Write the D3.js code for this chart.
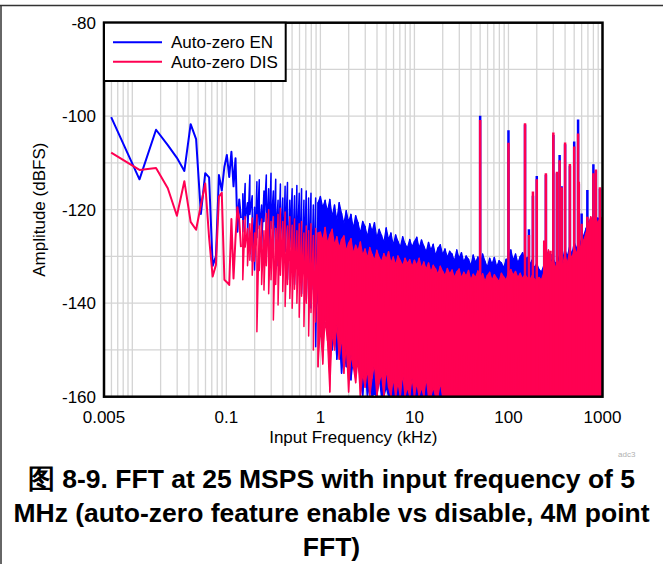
<!DOCTYPE html>
<html><head><meta charset="utf-8">
<script src="https://cdn.jsdelivr.net/npm/d3@7/dist/d3.min.js"></script>
<style>html,body{margin:0;padding:0;background:#fff;}svg{display:block;}</style>
</head><body>
<svg id="chart" width="663" height="564"></svg>
<script>
// ---------------- DATA ----------------
const seriesNames = ["Auto-zero EN", "Auto-zero DIS"];
const xTickValues = [0.005, 0.1, 1, 10, 100, 1000];
const xTickLabels = ["0.005", "0.1", "1", "10", "100", "1000"];
const yTickValues = [-80, -100, -120, -140, -160];

// lowest FFT bins (kHz), drawn as a plain line
const binFreq = [0.00596, 0.01192, 0.01788, 0.02384, 0.0298, 0.03576, 0.04172, 0.04768, 0.05364, 0.0596,
  0.06556, 0.07152, 0.07748, 0.08344, 0.0894, 0.09536, 0.1013, 0.1073, 0.1132, 0.1192, 0.1252, 0.1311, 0.1371, 0.1430];
const enBins = [-100.2, -113.5, -102.9, -106.2, -108.9, -111.7, -101.7, -104.9, -120.9, -112.2,
  -113.1, -132, -130, -112.6, -115.9, -110.8, -108.3, -113, -107.6, -115, -109, -124.7, -117.8, -121.8];
const disBins = [-107.8, -111.5, -111.1, -115.4, -121.3, -113.9, -122.6, -124.3, -119, -114.4,
  -126, -134.3, -131.8, -117.2, -116.4, -135, -135.5, -136.1, -122, -134.7, -126, -119.5, -122.2, -128];

// dense part of the spectrum: per-frequency max / min of the trace (kHz, dBFS)
const envFreq = [
  0.1496, 0.1585, 0.1679, 0.1778, 0.1884, 0.1995, 0.2113, 0.2239, 0.2371, 0.2512, 0.2661, 0.2818, 0.2985, 0.3162, 0.335, 0.3548, 0.3758, 0.3981, 0.4217, 0.4467, 0.4732, 0.5012, 0.5309, 0.5623, 0.5957, 0.631, 0.6683, 0.7079, 0.7499, 0.7943, 0.8414, 0.8913, 0.9441,
  1, 1.059, 1.122, 1.189, 1.259, 1.334, 1.413, 1.496, 1.585, 1.679, 1.778, 1.884, 1.995, 2.113, 2.239, 2.371, 2.512, 2.661, 2.818, 2.985, 3.162, 3.35, 3.548, 3.758, 3.981, 4.217, 4.467, 4.732, 5.012, 5.309, 5.623, 5.957, 6.31, 6.683, 7.079, 7.499, 7.943, 8.414, 8.913, 9.441,
  10, 10.59, 11.22, 11.89, 12.59, 13.34, 14.13, 14.96, 15.85, 16.79, 17.78, 18.84, 19.95, 21.13, 22.39, 23.71, 25.12, 26.61, 28.18, 29.85, 31.62, 33.5, 35.48, 37.58, 39.81, 42.17, 44.67, 47.32, 50.12, 53.09, 56.23, 59.57, 63.1, 66.83, 70.79, 74.99, 79.43, 84.14, 89.13, 94.41,
  100, 105.9, 112.2, 118.9, 125.9, 133.4, 141.3, 149.6, 158.5, 167.9, 177.8, 188.4, 199.5, 211.3, 223.9, 237.1, 251.2, 266.1, 281.8, 298.5, 316.2, 335, 354.8, 375.8, 398.1, 421.7, 446.7, 473.2, 501.2, 530.9, 562.3, 595.7, 631, 668.3, 707.9, 749.9, 794.3, 841.4, 891.3, 944.1,
  1000];
const enHi = [
  -116.5, -114.4, -118.5, -112.6, -117, -119.5, -114, -113.6, -119, -116, -112.6, -115.5, -112.2, -116, -113.5, -118, -114.5, -117.5, -115, -114.2, -118, -115.5, -117, -114.8, -116.5, -115.5, -118, -116, -117.5, -116.5, -119, -117.5, -118.5,
  -117.2, -119.5, -118, -120.4, -117.8, -121.5, -119, -122.3, -118.5, -120.8, -123, -120.2, -122.6, -121, -124, -121.3, -122.8, -125, -122.5, -123.6, -125.8, -123, -124.6, -122.8, -126, -124.2, -125.5, -127, -123.9, -126.4, -125, -127.6, -125.4, -126.8, -128, -125.8, -127.3, -128.2, -126.4, -127.9,
  -126.8, -125.9, -128.2, -126.5, -127.8, -129, -127, -128.6, -127.4, -129.8, -128.2, -127.5, -129.6, -128.4, -130.2, -128.9, -129.5, -131, -128.6, -130.4, -129.2, -131.2, -129.9, -130.6, -132, -129.7, -131.3, -130.1, -131.8, -129.5, -131, -132.3, -130.4, -131.6, -130.2, -132.2, -130.9, -131.4, -132.4, -130.6,
  -130.5, -128.6, -130.8, -129.5, -131.4, -130, -129.2, -131, -130.2, -131.8, -130.8, -132.5, -131.5, -132.8, -133.3, -132, -130, -129, -131, -130.5, -131.5, -130.8, -129.5, -130.8, -128.5, -130, -128, -129.5, -127, -128.5, -126, -127.5, -125.5, -124, -122.5, -123.5, -122, -122.8, -121.8, -122.4,
  -122];
const enLo = [
  -124.7, -122, -126, -121, -131, -132.9, -126, -124, -128, -122.5, -125, -130, -124, -128.5, -126, -132, -127, -134, -129, -135, -128, -133, -136, -130, -134, -138, -132, -139.3, -135, -141, -137, -149.3, -140,
  -144, -149.4, -140, -146.4, -142, -150, -145, -152, -147, -155, -150, -153.6, -148, -156.4, -152, -148.6, -152.9, -156, -160, -154, -160, -157, -160, -159.3, -160, -156, -160, -160, -158, -160, -160, -160, -160, -160, -160, -160, -160, -160, -160, -160,
  -160, -160, -160, -160, -160, -160, -160, -160, -160, -160, -160, -160, -160, -160, -160, -160, -160, -160, -160, -160, -160, -160, -160, -160, -160, -160, -160, -160, -160, -160, -160, -160, -160, -160, -160, -160, -160, -160, -160, -160,
  -160, -160, -160, -160, -160, -160, -160, -160, -160, -160, -160, -160, -160, -160, -160, -160, -160, -160, -160, -160, -160, -160, -160, -160, -160, -160, -160, -160, -160, -160, -160, -160, -160, -160, -160, -160, -160, -160, -160, -160,
  -160];
const disHi = [
  -122.2, -121.5, -124, -123, -121.8, -125, -121.1, -123.5, -122, -124.5, -120.8, -120, -122.5, -121.5, -124, -121, -119.7, -122.5, -120.5, -123.5, -121.5, -123.3, -122, -124.5, -123, -122.5, -125, -123.5, -124.5, -123, -125.5, -124, -125,
  -124.8, -126.6, -123.8, -127.2, -125.4, -124.2, -127.6, -125.8, -128.2, -126.4, -125.6, -128.8, -127.2, -126.2, -129.4, -127.6, -128.8, -126.9, -129.8, -128.4, -130.3, -128.1, -129.6, -130.8, -128.7, -130.2, -131.1, -129.4, -130.6, -129, -131.4, -130.1, -131.8, -129.9, -130.9, -132, -130.4, -131.5, -130.7, -132.2,
  -130.8, -131.9, -130.4, -132.5, -131.2, -132.8, -131.4, -133.3, -131.9, -132.7, -133.8, -132.1, -133.2, -134.1, -132.6, -133.7, -132.9, -134.5, -133.3, -132.7, -134.6, -133.4, -134.2, -133, -135, -133.8, -134.5, -133.1, -134.9, -133.7, -135.3, -134.1, -133.4, -135.1, -133.9, -134.7, -135.4, -133.6, -134.4, -135,
  -133.5, -132.8, -134, -133.2, -134.5, -133.6, -134.8, -133.8, -134.6, -135, -134.2, -134.8, -135.2, -134.5, -135, -133.5, -131, -128.6, -131.5, -130.8, -132.3, -131.5, -130.8, -132, -129.5, -131.5, -129, -130.5, -128, -129.5, -127, -128.5, -126.5, -125, -123, -121.5, -122.5, -121.5, -123, -121.5,
  -122];
const disLo = [
  -135, -128, -132, -130.8, -134, -131, -146.1, -133, -136, -137.2, -132, -138, -135, -143.6, -136, -140.4, -134, -137.5, -140.7, -136, -139, -141.1, -137, -140, -143, -138.5, -145, -140, -147, -142, -150, -144, -153.6,
  -145, -153, -143.6, -148, -159, -146, -150, -144.5, -152, -147, -155, -149, -159, -151, -153.6, -157, -152, -160, -155, -158, -154, -160, -156, -153, -160, -157, -155, -160, -154, -158, -160, -156, -160, -157, -160, -155, -160, -158, -160, -156,
  -160, -157, -160, -158, -160, -156, -160, -160, -158, -160, -160, -157, -160, -160, -160, -160, -160, -160, -160, -160, -160, -160, -160, -160, -160, -160, -160, -160, -160, -160, -160, -160, -160, -160, -160, -160, -160, -160, -160, -160,
  -160, -160, -160, -160, -160, -160, -160, -160, -160, -160, -160, -160, -160, -160, -160, -160, -160, -160, -160, -160, -160, -160, -160, -160, -160, -160, -160, -160, -160, -160, -160, -160, -160, -160, -160, -160, -160, -160, -160, -160,
  -160];

// spurs (kHz, dBFS peaks)
const spurFreq = [50, 100, 150, 165, 182, 200, 240, 250, 280, 300, 328, 350, 368, 400, 450, 500, 550, 560, 600, 690, 800, 850, 940];
const spurEN  = [-99.9, -103.0, -101.8, -124.2, -117, -112.8, -127.5, -112.5, -129.5, -104, -112.2, -108.3, -115, -106, -110.6, -105.4, -100.7, -114.5, -120.8, -115.8, -110.3, -111.6, -115.5];
const spurDIS = [-100.8, -105.7, -101.5, -125.4, -116.1, -113.5, -126.6, -112.2, -128.8, -103.5, -111.9, -109.4, -115.2, -105.6, -110.2, -106.5, -103.7, -114, -123, -121.5, -112.2, -111.4, -115.2];

const captionLines = ["图 8-9. FFT at 25 MSPS with input frequency of 5",
  "MHz (auto-zero feature enable vs disable, 4M point", "FFT)"];

// ---------------- DRAW ----------------
const colors = ["#0000ff", "#ff0052"];
const FONT = "Arial, 'Liberation Sans', Helvetica, sans-serif";
const svg = d3.select("#chart");
const L = 104, R = 602.5, T = 22.7, B = 396.7;
const x = d3.scaleLog().domain([0.005, 1000]).range([L, R]);
const y = d3.scaleLinear().domain([-160, -80]).range([B, T]);

// outer frame
svg.append("line").attr("x1", 0).attr("x2", 663).attr("y1", 5.5).attr("y2", 5.5).attr("stroke", "#333").attr("stroke-width", 1.5);
svg.append("line").attr("x1", 1).attr("x2", 1).attr("y1", 5).attr("y2", 564).attr("stroke", "#333").attr("stroke-width", 1.5);

svg.append("defs").append("clipPath").attr("id", "clip")
  .append("rect").attr("x", L).attr("y", T).attr("width", R - L).attr("height", B - T);

// grid
const grid = svg.append("g");
grid.selectAll("line.v").data(x.ticks()).enter().append("line")
  .attr("x1", d => x(d)).attr("x2", d => x(d)).attr("y1", T).attr("y2", B)
  .attr("stroke", "#d4d4d4").attr("stroke-width", 1.3);
grid.selectAll("line.h").data(y.ticks(8)).enter().append("line")
  .attr("x1", L).attr("x2", R).attr("y1", d => y(d)).attr("y2", d => y(d))
  .attr("stroke", "#d4d4d4").attr("stroke-width", 1.3);

const plot = svg.append("g").attr("clip-path", "url(#clip)");
const series = [
  {bins: enBins, hi: enHi, lo: enLo, spur: spurEN, color: colors[0]},
  {bins: disBins, hi: disHi, lo: disLo, spur: spurDIS, color: colors[1]}
];
const lineGen = d3.line().x(d => x(d[0])).y(d => y(d[1]));
const areaGen = d3.area().x(d => x(d.f)).y0(d => y(d.lo)).y1(d => y(d.hi));
series.forEach(s => {
  const g = plot.append("g");
  g.append("path").datum(binFreq.map((f, i) => [f, s.bins[i]]))
    .attr("d", lineGen).attr("fill", "none").attr("stroke", s.color)
    .attr("stroke-width", 2).attr("stroke-linejoin", "round");
  const env = envFreq.map((f, i) => ({f, hi: s.hi[i], lo: s.lo[i]}));
  // solid fill where the trace is dense (several bins per pixel)
  g.append("path").datum(env.filter(d => d.f >= 0.9)).attr("d", areaGen)
    .attr("fill", s.color).attr("stroke", s.color).attr("stroke-width", 1.2).attr("stroke-linejoin", "round");
  // zig-zag trace through max/min for spiky texture
  const zig = [];
  env.forEach(d => { zig.push([d.f, d.hi]); zig.push([d.f, d.lo]); });
  g.append("path").datum(zig).attr("d", lineGen).attr("fill", "none")
    .attr("stroke", s.color).attr("stroke-width", 1.5).attr("stroke-linejoin", "round");
  g.selectAll("line.spur").data(spurFreq.map((f, i) => [f, s.spur[i]])).enter().append("line")
    .attr("x1", d => x(d[0])).attr("x2", d => x(d[0]))
    .attr("y1", y(-160)).attr("y2", d => y(d[1]))
    .attr("stroke", s.color).attr("stroke-width", 2.5);
});

// plot border
svg.append("rect").attr("x", L).attr("y", T).attr("width", R - L).attr("height", B - T)
  .attr("fill", "none").attr("stroke", "#000").attr("stroke-width", 2.5);

// tick labels
svg.append("g").selectAll("text").data(xTickValues).enter().append("text")
  .attr("x", d => x(d)).attr("y", 423).attr("text-anchor", "middle")
  .attr("font-family", FONT).attr("font-size", 17).attr("fill", "#000")
  .text((d, i) => xTickLabels[i]);
svg.append("g").selectAll("text").data(yTickValues).enter().append("text")
  .attr("x", 96).attr("y", d => y(d)).attr("dy", "0.35em").attr("text-anchor", "end")
  .attr("font-family", FONT).attr("font-size", 17).attr("fill", "#000")
  .text(d => d);

// axis titles
svg.append("text").attr("x", (L + R) / 2).attr("y", 443).attr("text-anchor", "middle")
  .attr("font-family", FONT).attr("font-size", 17).text("Input Frequency (kHz)");
svg.append("text").attr("transform", `translate(45,${(T + B) / 2}) rotate(-90)`)
  .attr("text-anchor", "middle").attr("font-family", FONT).attr("font-size", 17)
  .text("Amplitude (dBFS)");

// legend
const lg = svg.append("g");
lg.append("rect").attr("x", L).attr("y", T).attr("width", 181.7).attr("height", 58.3)
  .attr("fill", "#fff").attr("stroke", "#000").attr("stroke-width", 2);
seriesNames.forEach((n, i) => {
  const ly = 42.3 + i * 19.4;
  lg.append("line").attr("x1", 113).attr("x2", 162).attr("y1", ly).attr("y2", ly)
    .attr("stroke", colors[i]).attr("stroke-width", 2);
  lg.append("text").attr("x", 171).attr("y", ly).attr("dy", "0.36em")
    .attr("font-family", FONT).attr("font-size", 17).text(n);
});

// watermark
svg.append("text").attr("x", 618).attr("y", 457).attr("font-family", FONT)
  .attr("font-size", 8).attr("fill", "#b0b0b0").text("adc3");

// caption
svg.append("g").selectAll("text").data(captionLines).enter().append("text")
  .attr("x", 331.5).attr("y", (d, i) => 488 + i * 34).attr("text-anchor", "middle")
  .attr("font-family", FONT).attr("font-weight", "bold").attr("font-size", 26.5)
  .attr("fill", "#000").text(d => d);
</script>
</body></html>
